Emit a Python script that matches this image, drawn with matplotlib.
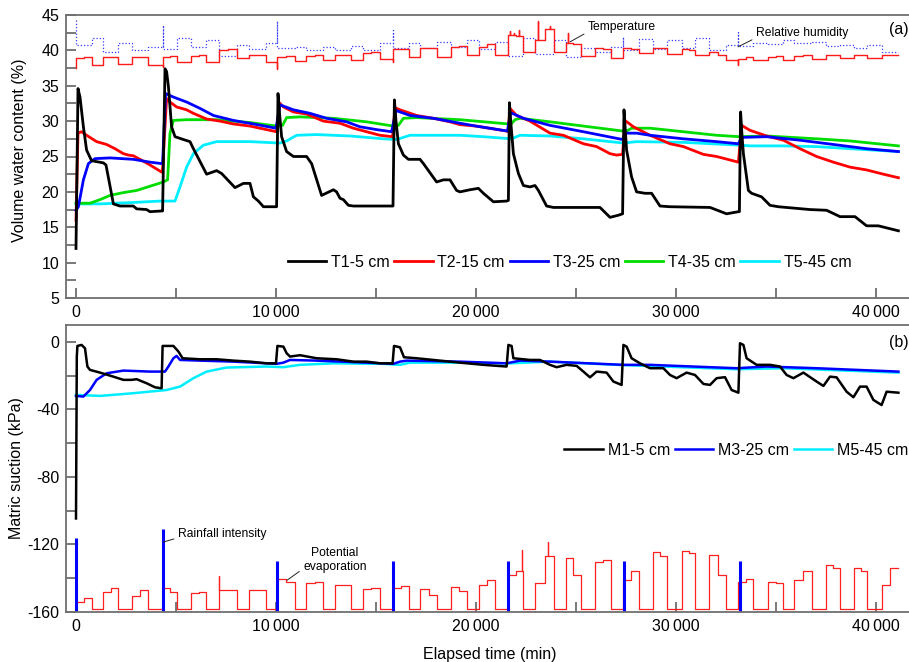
import matplotlib
matplotlib.use('Agg')
import matplotlib.pyplot as plt
from matplotlib.ticker import MultipleLocator, FuncFormatter
from matplotlib.lines import Line2D

plt.rcParams['font.family'] = ['Liberation Sans', 'DejaVu Sans']
plt.rcParams['axes.unicode_minus'] = False

# ---------------- volumetric water content (%) ----------------
T1_t = [0, 100, 200, 370, 530, 780, 1370, 1500, 1870, 2200, 2870, 3030, 3530, 3700, 4280,
        4330, 4450, 4530, 4620, 4780, 4950, 5370, 5700, 5870, 6530, 7030, 7280, 7950, 8370, 8700,
        8870, 9120, 9370, 10030, 10100, 10180, 10280, 10530, 10870, 11530, 11780, 12280, 12870,
        13030, 13200, 13370, 13620, 13870, 15850, 15920, 16000, 16120, 16370, 16620, 17200, 17370,
        18030, 18370, 18700, 19030, 19200, 19700, 20120, 20370, 20870, 21530, 21620, 21670, 21750,
        21870, 22120, 22370, 22700, 22950, 23120, 23530, 23870, 26200, 26700, 27120, 27330, 27400,
        27470, 27530, 27780, 28030, 28450, 28780, 29200, 29700, 31700, 32530, 33120, 33170, 33230,
        33300, 33370, 33620, 33780, 34280, 34700, 35120, 36700, 37530, 38200, 38950, 39530, 40120,
        41120]
T1_v = [12.0, 34.6, 33.4, 29.2, 25.9, 24.4, 24.1, 23.8, 18.3, 18.0, 18.0, 17.6, 17.5, 17.2, 17.3,
        17.3, 37.4, 37.0, 34.9, 29.2, 27.8, 27.4, 27.1, 26.1, 22.5, 23.0, 22.6, 20.6, 21.2, 21.2,
        19.3, 18.7, 17.9, 17.9, 33.9, 31.0, 27.8, 25.7, 25.0, 25.0, 24.0, 19.5, 20.3,
        20.0, 19.1, 18.9, 18.1, 18.0, 18.0, 33.0, 30.0, 26.8, 25.2, 24.6, 24.6, 24.0,
        21.4, 21.7, 21.7, 20.2, 20.0, 20.3, 20.5, 19.8, 18.6, 18.7, 18.8, 32.6, 29.5,
        25.4, 22.6, 20.9, 20.7, 20.9, 20.2, 18.0, 17.8, 17.8, 16.4, 16.7, 16.9, 31.6,
        28.5, 25.9, 22.1, 20.0, 19.8, 19.8, 18.0, 17.9, 17.8, 16.9, 17.2, 17.2, 31.3,
        28.0, 25.4, 20.2, 19.8, 19.3, 18.1, 17.9, 17.5, 17.4, 16.5, 16.5, 15.2, 15.2,
        14.5]

T2_t = [0, 100, 280, 530, 1030, 1530, 1950, 2370, 2620, 2870, 3200, 3700, 4280, 4330, 4530, 4700,
        5030, 5530, 5870, 6530, 7200, 7870, 8700, 9530, 10030, 10170, 10370, 10870, 11530, 12370,
        13200, 13870, 14530, 15200, 15830, 15950, 16200, 17030, 17870, 18700, 19200, 20000, 21530,
        21600, 21700, 22030, 22700, 23700, 24370, 25370, 26030, 26700, 27030, 27330, 27450, 27870,
        28700, 29700, 30370, 31370, 32030, 33120, 33280, 33700, 34530, 35370, 36200, 37030, 37870,
        38700, 39530, 40370, 41120]
T2_v = [16.0, 28.3, 28.5, 28.0, 27.1, 26.7, 26.1, 25.4, 25.2, 25.1, 24.6, 23.8, 22.8, 23.2, 33.2, 32.7,
        32.0, 31.6, 31.1, 30.3, 30.0, 29.6, 29.3, 28.8, 28.5, 32.6, 32.0, 31.3, 31.0, 30.0,
        29.7, 29.0, 28.5, 28.0, 27.8, 31.9, 31.6, 30.8, 30.4, 29.9, 29.5, 29.3, 28.6,
        28.5, 31.8, 30.8, 30.0, 28.3, 28.0, 26.8, 26.4, 25.4, 25.2, 25.3, 30.1, 29.2,
        28.0, 26.8, 26.4, 25.3, 25.0, 24.2, 29.4, 28.7, 27.9, 27.3, 26.1, 25.0, 24.2,
        23.5, 23.1, 22.5, 22.0]

T3_t = [0, 120, 370, 620, 950, 1700, 2870, 3700, 4280, 4330, 4480, 4870, 5530, 6200, 6870, 7870,
        8870, 10000, 10200, 10870, 11700, 12530, 13530, 14200, 15030, 15780, 16000, 16700, 17870,
        19200, 20000, 21570, 21730, 22370, 23700, 25370, 27330, 27450, 28030, 28700, 30370, 32030,
        33120, 33280, 34530, 36200, 37870, 39530, 41120]
T3_v = [17.4, 17.9, 21.7, 24.0, 24.7, 24.8, 24.6, 24.2, 24.0, 24.0, 33.9, 33.4, 32.7, 31.8, 30.8, 30.1,
        29.6, 29.0, 32.3, 31.6, 31.1, 30.4, 29.9, 29.2, 28.8, 28.5, 31.5, 30.8, 30.4,
        29.7, 29.3, 28.6, 31.2, 30.4, 29.4, 28.5, 27.4, 28.3, 28.3, 28.0, 27.5, 27.1,
        26.8, 27.7, 27.8, 27.3, 26.7, 26.1, 25.7]

T4_t = [0, 700, 1200, 1700, 2370, 3030, 3700, 4370, 4580, 4700, 4870, 5530, 7030, 8700, 10030, 10330,
        10530, 11200, 12870, 14530, 15870, 16120, 16370, 17030, 19200, 21620, 21700, 21950, 22200,
        23700, 25370, 27330, 27530, 27780, 28700, 30370, 32030, 33170, 34530, 37030, 38700, 41120]
T4_v = [18.4, 18.4, 18.9, 19.5, 19.9, 20.2, 20.8, 21.4, 21.7, 28.3, 30.1, 30.2, 30.2, 29.8, 29.3, 29.4,
        30.5, 30.6, 30.4, 29.9, 29.3, 29.4, 30.4, 30.5, 30.2, 29.6, 29.4, 30.2, 30.4,
        29.9, 29.3, 28.6, 28.6, 29.0, 29.0, 28.5, 28.0, 27.8, 27.9, 27.5, 27.2, 26.5]

T5_t = [0, 1200, 2870, 4200, 4950, 5200, 5530, 5870, 6370, 7030, 8700, 10200, 10530, 11030, 12030,
        13700, 15370, 16030, 16700, 19200, 20370, 21780, 22200, 23700, 25370, 27370, 28030, 30370,
        33200, 33700, 35370, 37030, 38700, 41120]
T5_v = [18.3, 18.3, 18.5, 18.7, 18.7, 20.7, 23.5, 25.4, 26.6, 27.1, 27.1, 26.9, 27.2, 28.0, 28.1,
        27.9, 27.5, 27.4, 28.0, 28.0, 27.8, 27.5, 28.0, 27.9, 27.5, 26.9, 27.1, 27.0,
        26.6, 26.5, 26.5, 26.4, 26.1, 25.7]

vwc_labels = ['T1-5 cm', 'T2-15 cm', 'T3-25 cm', 'T4-35 cm', 'T5-45 cm']

# ---------------- matric suction (kPa) ----------------
M1_t = [0, 40, 70, 280, 450, 570, 700, 1200, 1870, 2370, 2780, 3030, 3530, 3950, 4280, 4330, 4870,
        5120, 5330, 6200, 7030, 7870, 8700, 9530, 10000, 10070, 10370, 10530, 10700, 11200, 12030,
        13030, 13870, 14530, 15200, 15830, 15900, 16200, 16400, 17030, 17870, 19200, 20370, 21530,
        21620, 21780, 21870, 22700, 23200, 23700, 24030, 24530, 25030, 25370, 25700, 26030, 26530,
        26870, 27280, 27370, 27530, 27780, 28200, 28700, 29370, 29700, 30030, 30530, 30950, 31370,
        31700, 32030, 32450, 32780, 33120, 33200, 33370, 33530, 34030, 34700, 35200, 35530, 35870,
        36370, 37030, 37370, 37700, 38030, 38530, 38870, 39200, 39530, 39870, 40280, 40530, 41120]
M1_v = [-104.6, -8.7, -2.4, -1.8, -3.8, -14.6, -16.6, -18.2, -20.6, -22.5, -22.5, -22.1, -24.5, -26.9,
        -27.5, -2.4, -2.4, -5.7, -9.7, -10.3, -10.3, -11.1, -11.7, -12.7, -12.7, -2.4, -2.8, -6.7,
        -8.7, -7.9, -9.7, -10.3, -11.7, -11.7, -12.7, -12.7, -2.4, -3.2, -9.1, -9.7, -10.7,
        -12.3, -13.6, -14.6, -1.8, -2.4, -9.7, -10.7, -10.7, -13.6, -15.0, -13.6, -14.2,
        -17.6, -21.0, -17.6, -18.2, -23.5, -25.5, -1.8, -2.8, -9.7, -12.7, -15.6, -15.6,
        -19.6, -21.5, -18.2, -19.6, -24.9, -25.5, -21.5, -20.9, -28.5, -30.1, -0.8, -1.8,
        -9.7, -13.6, -13.6, -14.6, -19.6, -21.5, -18.2, -23.5, -26.1, -20.6, -21.0, -29.5,
        -32.8, -26.5, -26.5, -34.4, -37.4, -29.5, -30.1]

M3_t = [0, 370, 700, 1030, 1530, 2370, 3700, 4450, 4620, 4870, 5030, 5200, 6200, 7870, 10030, 10370,
        10700, 12030, 14530, 15870, 16200, 16530, 19200, 21530, 22200, 23700, 27370, 28700, 33030,
        34530, 37030, 41120]
M3_v = [-32.0, -32.4, -28.5, -22.5, -18.6, -17.0, -17.6, -17.6, -14.6, -9.7, -8.3, -10.7, -11.1, -11.7,
        -13.0, -12.3, -10.7, -11.1, -12.3, -13.0, -11.7, -11.1, -11.7, -12.7, -11.1, -11.7,
        -13.6, -13.6, -15.6, -14.6, -15.6, -17.6]

M5_t = [0, 1200, 2870, 4530, 5200, 5870, 6530, 7530, 9530, 10370, 11200, 12870, 15370, 16200, 16700,
        19200, 21700, 23700, 27030, 33030, 35370, 41120]
M5_v = [-31.4, -32.0, -30.4, -28.5, -26.5, -21.5, -17.6, -15.2, -14.6, -15.0, -13.6, -12.7, -13.0,
        -13.6, -12.3, -12.3, -12.7, -11.7, -13.6, -16.2, -15.6, -18.2]

ms_labels = ['M1-5 cm', 'M3-25 cm', 'M5-45 cm']

# ---------------- daily climate cycles (lamp on / off, min) ----------------
day_on = [0, 1370, 2800, 4330, 5750, 7130, 8630, 10050, 11500, 12950, 14330, 15830, 17200, 18750,
          20170, 21580, 22950, 24500, 25950, 27370, 28830, 30300, 31650, 33120, 34580, 35900,
          37520, 38920, 40280]
day_off = [800, 2120, 3620, 5030, 6500, 8030, 9500, 10970, 12370, 13750, 15200, 16670, 18070, 19530,
           20950, 22370, 23900, 25230, 26730, 28170, 29530, 30950, 32500, 33870, 35370, 36780,
           38200, 39570, 41120]

# temperature trace (plotted on the VWC scale)
temp_a = [38.9, 39.1, 39.0, 39.1, 39.2, 40.1, 39.4, 39.0, 39.2, 39.4, 39.6, 40.2, 40.3, 40.5, 40.5,
          42.2, 41.5, 41.0, 40.3, 40.4, 40.3, 40.2, 39.8, 38.8, 39.1, 39.2, 39.3, 39.3, 39.3]
temp_b = [39.1, 39.1, 39.1, 39.2, 39.3, 40.2, 39.4, 39.2, 39.3, 39.4, 39.7, 40.2, 40.4, 40.6, 40.9,
          42.0, 43.0, 40.9, 40.2, 40.2, 40.3, 40.1, 39.4, 39.1, 39.2, 39.3, 39.4, 39.4, 39.4]
temp_night = [38.0, 38.1, 38.0, 38.3, 38.4, 38.9, 38.4, 38.5, 38.6, 38.7, 38.8, 39.0, 39.1, 39.3,
              39.3, 39.8, 39.8, 39.2, 38.9, 39.6, 39.5, 39.4, 38.7, 38.6, 38.7, 38.8, 38.9, 38.9]
temp_dip = {0: 37.5, 3: 37.7, 7: 37.4, 11: 38.3, 23: 37.9}
temp_spikes = [(21700, 42.8), (21900, 42.5), (22150, 42.9), (23120, 44.1), (23700, 43.4),
               (24620, 42.4)]

# relative humidity trace (plotted on the VWC scale)
hum_day = [40.8, 39.8, 40.0, 40.2, 40.5, 39.2, 40.2, 40.4, 40.0, 40.0, 40.0, 40.3, 40.4, 40.5, 40.2,
           39.2, 39.5, 39.1, 39.7, 40.0, 40.2, 40.4, 40.1, 40.6, 40.9, 41.0, 40.6, 40.4, 39.7]
hum_night = [41.7, 41.1, 40.5, 41.7, 41.5, 40.8, 41.0, 40.5, 40.5, 40.6, 41.0, 41.0, 41.2, 41.5,
             41.2, 41.7, 41.5, 40.3, 40.5, 41.6, 41.5, 41.7, 40.7, 41.0, 41.5, 41.2, 40.8, 40.8]
hum_spike = {0: 44.3, 3: 43.6, 7: 44.2, 11: 42.9, 19: 41.9, 23: 42.6}

# potential evaporation trace (plotted on the suction scale)
evap_a = [-154.0, -148.0, -150.5, -146.0, -149.0, -147.0, -147.0, -140.5, -143.0, -144.0, -146.1,
          -145.5, -146.5, -145.0, -144.0, -138.0, -142.6, -128.0, -130.3, -141.0, -124.5, -124.0,
          -126.0, -142.0, -142.5, -141.0, -132.3, -134.2, -144.0]
evap_b = [-151.6, -145.7, -147.0, -148.0, -148.1, -147.0, -147.0, -142.0, -142.5, -144.0, -145.5,
          -144.5, -150.0, -147.5, -141.0, -136.0, -127.0, -138.0, -129.3, -135.5, -127.0, -125.0,
          -138.0, -140.5, -143.0, -136.0, -134.0, -136.0, -134.0]
evap_base = -158.0
evap_spikes = [(7170, -138.6), (22290, -123.4), (23620, -118.4)]

# rainfall events (bars on the suction scale)
rain_t = [0, 4330, 10050, 15850, 21620, 27380, 33200]
rain_top = [-116, -111, -130, -130, -130, -130, -130]


def cycle_line(on, off, lv_a, lv_b, night, pre=None, spikes=()):
    xs, ys = [], []
    n = len(on)
    for i in range(n):
        mid = 0.5 * (on[i] + off[i])
        if i > 0:
            xs.append(on[i]); ys.append(night[i - 1])
        if pre is not None and i in pre:
            xs.append(on[i]); ys.append(pre[i])
        seg = [(on[i], lv_a[i]), (mid, lv_a[i]), (mid, lv_b[i]), (off[i], lv_b[i])]
        for ts, vs in sorted(s for s in spikes if on[i] <= s[0] <= off[i]):
            lv = lv_a[i] if ts < mid else lv_b[i]
            k = len(seg) - 1
            for j in range(1, len(seg)):
                if seg[j][0] > ts:
                    k = j
                    break
            seg[k:k] = [(ts, lv), (ts, vs), (ts, lv)]
        xs += [p[0] for p in seg]; ys += [p[1] for p in seg]
        if i < n - 1:
            xs.append(off[i]); ys.append(night[i])
    return xs, ys


W, H = 909, 662
fig = plt.figure(figsize=(W / 100, H / 100), dpi=100)


def px_axes(l, t, r, b):
    return [l / W, 1 - b / H, (r - l) / W, (b - t) / H]


ax1 = fig.add_axes(px_axes(66, 15, 913, 298))
ax2 = fig.add_axes(px_axes(66, 325, 913, 612))

spine_c = '#707070'
FS = 11.5
for ax in (ax1, ax2):
    for s in ax.spines.values():
        s.set_color(spine_c)
        s.set_linewidth(1.3)
    ax.tick_params(which='both', direction='in', length=7, width=1.1, color='#555555',
                   labelsize=FS, pad=5, top=False, right=False)
    ax.set_xlim(-500, 41850)
    ax.xaxis.set_major_locator(MultipleLocator(10000))
    ax.xaxis.set_minor_locator(MultipleLocator(5000))
    ax.xaxis.set_major_formatter(FuncFormatter(
        lambda v, p: f"{int(round(v)):,}".replace(',', '\u2009')))

# ---- panel (a) ----
ax1.set_ylim(5, 45)
ax1.yaxis.set_major_locator(MultipleLocator(5))
ax1.yaxis.set_minor_locator(MultipleLocator(2.5))

tx, ty = cycle_line(day_on, day_off, temp_a, temp_b, temp_night, pre=temp_dip, spikes=temp_spikes)
hx, hy = cycle_line(day_on, day_off, hum_day, hum_day, hum_night, pre=hum_spike)
ax1.plot(hx, hy, color='#3a3aff', lw=0.9, ls=(0, (1, 1.6)))
ax1.plot(tx, ty, color='#ff1a1a', lw=1.0)

vwc_colors = ['black', '#ff0000', '#0000ff', '#00dd00', '#00eeff']
vwc_t = [T1_t, T2_t, T3_t, T4_t, T5_t]
vwc_v = [T1_v, T2_v, T3_v, T4_v, T5_v]
for k in [4, 3, 1, 2, 0]:
    ax1.plot(vwc_t[k], vwc_v[k], color=vwc_colors[k], lw=2.0, solid_joinstyle='round')
h1 = [Line2D([], [], color=c, lw=2.0) for c in vwc_colors]
ax1.legend(h1, vwc_labels, ncol=5, loc='center right', bbox_to_anchor=(0.927, 0.127),
           frameon=False, fontsize=FS, handlelength=2.4, handletextpad=0.3, columnspacing=0.3,
           borderpad=0, borderaxespad=0)

ax1.annotate('Temperature', xy=(24700, 41.2), xytext=(25600, 43.3), fontsize=8.7,
             ha='left', va='center',
             arrowprops=dict(arrowstyle='-', color='#222222', lw=0.7, shrinkA=1, shrinkB=0,
                             relpos=(0, 0.1)))
ax1.annotate('Relative humidity', xy=(33100, 40.5), xytext=(34000, 42.45), fontsize=8.7,
             ha='left', va='center',
             arrowprops=dict(arrowstyle='-', color='#222222', lw=0.7, shrinkA=1, shrinkB=0,
                             relpos=(0, 0.1)))
ax1.text(0.995, 0.947, '(a)', transform=ax1.transAxes, ha='right', va='center', fontsize=FS)

# ---- panel (b) ----
ax2.set_ylim(-160, 10)
ax2.yaxis.set_major_locator(MultipleLocator(40))
ax2.yaxis.set_minor_locator(MultipleLocator(20))

ex, ey = cycle_line(day_on, day_off, evap_a, evap_b, [evap_base] * len(day_on), spikes=evap_spikes)
ax2.plot(ex, ey, color='#ff2020', lw=0.9)
ax2.vlines(rain_t, -160, rain_top, color='#0000ff', lw=2.2)

ms_colors = ['black', '#0000ff', '#00eeff']
ms_t = [M1_t, M3_t, M5_t]
ms_v = [M1_v, M3_v, M5_v]
for k in [2, 1, 0]:
    ax2.plot(ms_t[k], ms_v[k], color=ms_colors[k], lw=1.8, solid_joinstyle='round')
h2 = [Line2D([], [], color=c, lw=1.8) for c in ms_colors]
ax2.legend(h2, ms_labels, ncol=3, loc='center right', bbox_to_anchor=(0.994, 0.564),
           frameon=False, fontsize=FS, handlelength=2.4, handletextpad=0.3, columnspacing=0.3,
           borderpad=0, borderaxespad=0)

ax2.annotate('Rainfall intensity', xy=(4350, -118.6), xytext=(5100, -113.9), fontsize=8.7,
             ha='left', va='center',
             arrowprops=dict(arrowstyle='-', color='#222222', lw=0.7, shrinkA=1, shrinkB=0,
                             relpos=(0, 0.2)))
ax2.annotate('Potential\nevaporation', xy=(10550, -141.2), xytext=(12950, -129.0), fontsize=8.7,
             ha='center', va='center', multialignment='center',
             arrowprops=dict(arrowstyle='-', color='#222222', lw=0.7, shrinkA=1, shrinkB=0,
                             relpos=(0.0, 0.15)))
ax2.text(0.995, 0.94, '(b)', transform=ax2.transAxes, ha='right', va='center', fontsize=FS)

fig.text(20 / W, 1 - 150 / H, 'Volume water content (%)', rotation=90, ha='center', va='center',
         fontsize=FS)
fig.text(17 / W, 1 - 468 / H, 'Matric suction (kPa)', rotation=90, ha='center', va='center',
         fontsize=FS)
fig.text(490 / W, 1 - 654 / H, 'Elapsed time (min)', ha='center', va='center', fontsize=FS)

fig.savefig('out.png', dpi=100)
